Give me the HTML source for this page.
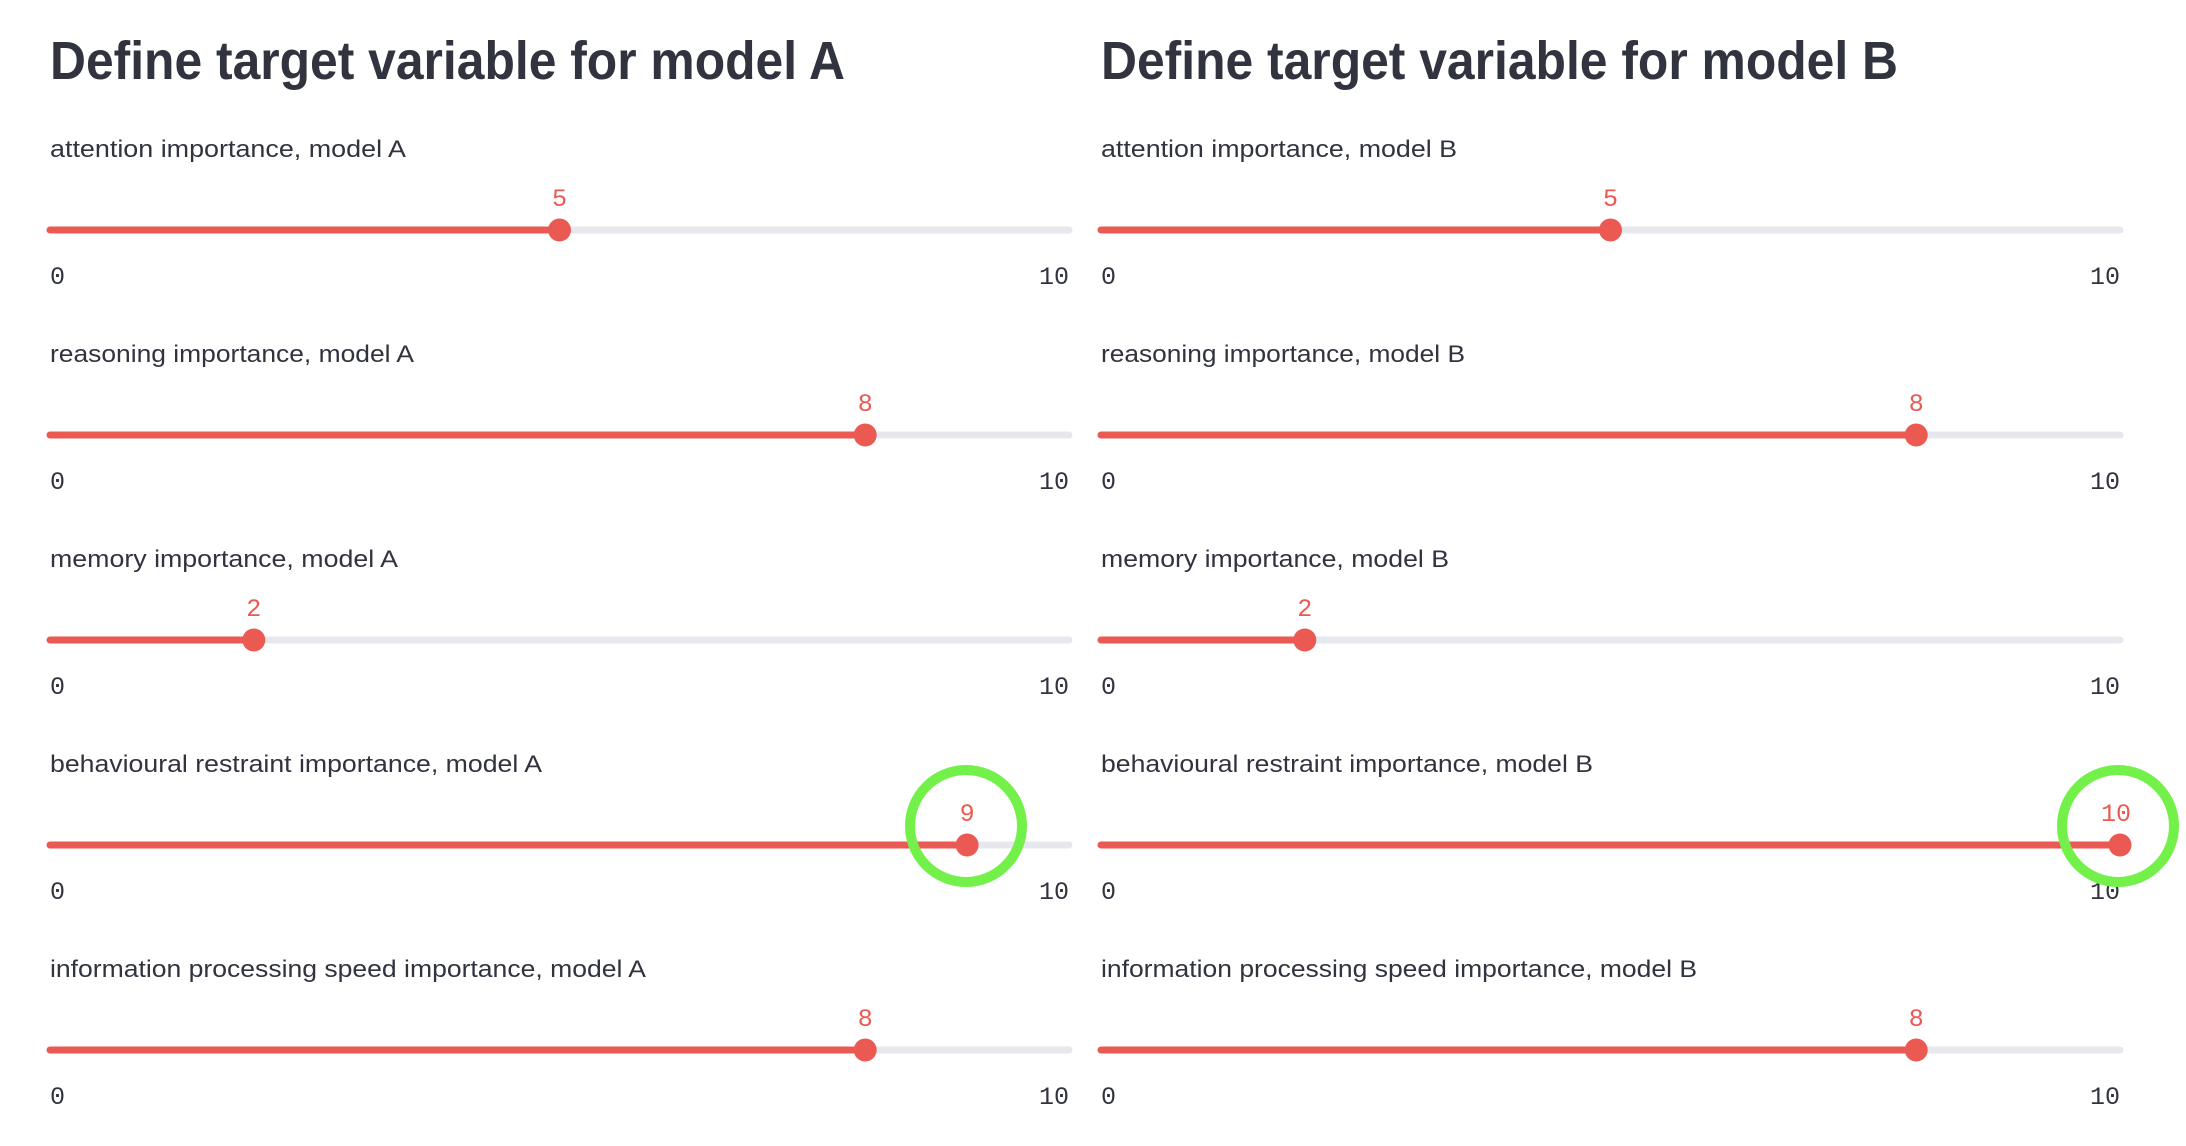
<!DOCTYPE html>
<html><head><meta charset="utf-8"><style>
html,body{margin:0;padding:0;background:#fff;width:2186px;height:1146px;overflow:hidden}
.t{font-family:"Liberation Sans",sans-serif;font-size:54px;font-weight:bold;fill:#31333f}
.l{font-family:"Liberation Sans",sans-serif;font-size:24px;fill:#31333f}
.m{font-family:"Liberation Mono",monospace;font-size:25px;fill:#31333f}
.v{font-family:"Liberation Mono",monospace;font-size:25px;fill:#eb5a52;text-anchor:middle}
.e{text-anchor:end}
.g{stroke:#e6e8ee;stroke-width:7;stroke-linecap:round}
.r{stroke:#eb5a52;stroke-width:7;stroke-linecap:round}
</style></head><body>
<svg width="2186" height="1146" viewBox="0 0 2186 1146" xmlns="http://www.w3.org/2000/svg">
<text class="t" x="50" y="79" textLength="795" lengthAdjust="spacingAndGlyphs">Define target variable for model A</text>
<text class="t" x="1101" y="79" textLength="797" lengthAdjust="spacingAndGlyphs">Define target variable for model B</text>

<!-- Row 1 -->
<text class="l" x="50" y="157" textLength="356" lengthAdjust="spacingAndGlyphs">attention importance, model A</text>
<line class="g" x1="50" y1="230" x2="1069" y2="230"/><line class="r" x1="50" y1="230" x2="559.5" y2="230"/>
<circle cx="559.5" cy="230" r="11.5" fill="#eb5a52"/><text class="v" x="559.5" y="206">5</text>
<text class="m" x="50" y="284">0</text><text class="m e" x="1069" y="284">10</text>
<text class="l" x="1101" y="157" textLength="356" lengthAdjust="spacingAndGlyphs">attention importance, model B</text>
<line class="g" x1="1101" y1="230" x2="2120" y2="230"/><line class="r" x1="1101" y1="230" x2="1610.5" y2="230"/>
<circle cx="1610.5" cy="230" r="11.5" fill="#eb5a52"/><text class="v" x="1610.5" y="206">5</text>
<text class="m" x="1101" y="284">0</text><text class="m e" x="2120" y="284">10</text>

<!-- Row 2 -->
<text class="l" x="50" y="362" textLength="364" lengthAdjust="spacingAndGlyphs">reasoning importance, model A</text>
<line class="g" x1="50" y1="435" x2="1069" y2="435"/><line class="r" x1="50" y1="435" x2="865.2" y2="435"/>
<circle cx="865.2" cy="435" r="11.5" fill="#eb5a52"/><text class="v" x="865.2" y="411">8</text>
<text class="m" x="50" y="489">0</text><text class="m e" x="1069" y="489">10</text>
<text class="l" x="1101" y="362" textLength="364" lengthAdjust="spacingAndGlyphs">reasoning importance, model B</text>
<line class="g" x1="1101" y1="435" x2="2120" y2="435"/><line class="r" x1="1101" y1="435" x2="1916.2" y2="435"/>
<circle cx="1916.2" cy="435" r="11.5" fill="#eb5a52"/><text class="v" x="1916.2" y="411">8</text>
<text class="m" x="1101" y="489">0</text><text class="m e" x="2120" y="489">10</text>

<!-- Row 3 -->
<text class="l" x="50" y="567" textLength="348" lengthAdjust="spacingAndGlyphs">memory importance, model A</text>
<line class="g" x1="50" y1="640" x2="1069" y2="640"/><line class="r" x1="50" y1="640" x2="253.8" y2="640"/>
<circle cx="253.8" cy="640" r="11.5" fill="#eb5a52"/><text class="v" x="253.8" y="616">2</text>
<text class="m" x="50" y="694">0</text><text class="m e" x="1069" y="694">10</text>
<text class="l" x="1101" y="567" textLength="348" lengthAdjust="spacingAndGlyphs">memory importance, model B</text>
<line class="g" x1="1101" y1="640" x2="2120" y2="640"/><line class="r" x1="1101" y1="640" x2="1304.8" y2="640"/>
<circle cx="1304.8" cy="640" r="11.5" fill="#eb5a52"/><text class="v" x="1304.8" y="616">2</text>
<text class="m" x="1101" y="694">0</text><text class="m e" x="2120" y="694">10</text>

<!-- Row 4 -->
<text class="l" x="50" y="772" textLength="492" lengthAdjust="spacingAndGlyphs">behavioural restraint importance, model A</text>
<line class="g" x1="50" y1="845" x2="1069" y2="845"/><line class="r" x1="50" y1="845" x2="967.1" y2="845"/>
<circle cx="967.1" cy="845" r="11.5" fill="#eb5a52"/><text class="v" x="967.1" y="821">9</text>
<text class="m" x="50" y="899">0</text><text class="m e" x="1069" y="899">10</text>
<text class="l" x="1101" y="772" textLength="492" lengthAdjust="spacingAndGlyphs">behavioural restraint importance, model B</text>
<line class="g" x1="1101" y1="845" x2="2120" y2="845"/><line class="r" x1="1101" y1="845" x2="2120" y2="845"/>
<circle cx="2120" cy="845" r="11.5" fill="#eb5a52"/><text class="v" x="2116" y="821">10</text>
<text class="m" x="1101" y="899">0</text><text class="m e" x="2120" y="899">10</text>

<!-- Row 5 -->
<text class="l" x="50" y="977" textLength="596" lengthAdjust="spacingAndGlyphs">information processing speed importance, model A</text>
<line class="g" x1="50" y1="1050" x2="1069" y2="1050"/><line class="r" x1="50" y1="1050" x2="865.2" y2="1050"/>
<circle cx="865.2" cy="1050" r="11.5" fill="#eb5a52"/><text class="v" x="865.2" y="1026">8</text>
<text class="m" x="50" y="1104">0</text><text class="m e" x="1069" y="1104">10</text>
<text class="l" x="1101" y="977" textLength="596" lengthAdjust="spacingAndGlyphs">information processing speed importance, model B</text>
<line class="g" x1="1101" y1="1050" x2="2120" y2="1050"/><line class="r" x1="1101" y1="1050" x2="1916.2" y2="1050"/>
<circle cx="1916.2" cy="1050" r="11.5" fill="#eb5a52"/><text class="v" x="1916.2" y="1026">8</text>
<text class="m" x="1101" y="1104">0</text><text class="m e" x="2120" y="1104">10</text>

<circle cx="966" cy="826" r="56" fill="none" stroke="#74f04a" stroke-width="10"/>
<circle cx="2118" cy="826" r="56" fill="none" stroke="#74f04a" stroke-width="10"/>
</svg>
</body></html>
